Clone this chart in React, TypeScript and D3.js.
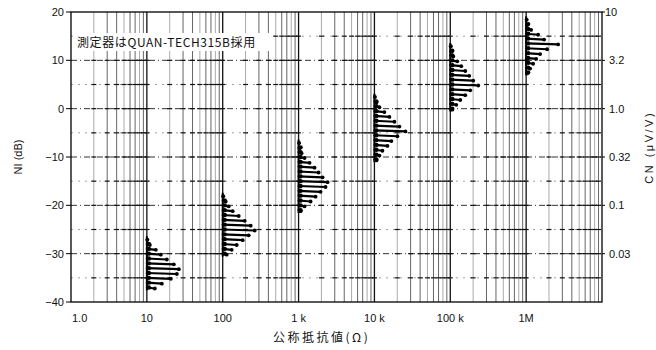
import React from "react";
import * as d3 from "d3";

// ---- data ----
const xTickValues = [1, 10, 100, 1e3, 1e4, 1e5, 1e6];
const xTickLabels = ["1.0", "10", "100", "1 k", "10 k", "100 k", "1M"];
const niTicks = [20, 10, 0, -10, -20, -30, -40];
const cnTickNI = [20, 10, 0, -10, -20, -30];
const cnLabels = ["10", "3.2", "1.0", "0.32", "0.1", "0.03"];

// histogram clusters: nominal resistance, NI of the top bar (dB), bar frequencies (1 dB steps downward)
const clusterR = [10, 100, 1e3, 1e4, 1e5, 1e6];
const clusterTopNI = [-28, -19, -8, 1.5, 12, 17.5];
const clusterFreq = [
  [3, 9, 14, 20, 27, 32, 30, 24, 15, 8],
  [3, 6, 10, 16, 22, 28, 32, 26, 20, 14, 9, 4],
  [1, 3, 6, 11, 16, 20, 24, 29, 27, 22, 17, 12, 6, 2],
  [2, 5, 10, 15, 20, 25, 31, 23, 17, 13, 8, 5, 2],
  [1, 3, 7, 11, 15, 19, 23, 28, 20, 15, 10, 6, 2],
  [1, 5, 12, 18, 32, 21, 14, 10, 7, 4, 1],
];

const W = 656;
const H = 350;
const FONT = "'Liberation Sans', Arial, sans-serif";
const CJK = "'Noto Sans CJK JP', sans-serif";

export default function App() {
  const x = d3.scaleLog().domain([1, 1e7]).range([71, 602]);
  const y = d3.scaleLinear().domain([-40, 20]).range([302, 12]);
  const len = d3.scaleLinear().domain([0, 40]).range([0, 40]);

  const gridX: number[] = [];
  for (let k = 0; k < 7; k++) {
    for (let m = 1; m <= 9; m++) {
      const v = m * Math.pow(10, k);
      if (v > 1 && v < 1e7) gridX.push(v);
    }
  }
  const gridY = d3.range(-35, 20, 5);

  return (
    <svg
      width={W}
      height={H}
      style={{ position: "absolute", left: 0, top: 0, background: "#fff" }}
    >
      <rect width={W} height={H} fill="#fff" />
      {/* vertical grid */}
      {gridX.map((v, i) => {
        const decade = Math.abs(Math.log10(v) - Math.round(Math.log10(v))) < 1e-9;
        return (
          <line
            key={"vx" + i}
            x1={x(v)}
            x2={x(v)}
            y1={y(20)}
            y2={y(-40)}
            stroke={decade ? "#111" : i % 3 === 0 ? "#aaa" : "#666"}
            strokeWidth={decade ? 1.3 : 1}
          />
        );
      })}
      {/* horizontal grid */}
      {gridY.map((v) => (
        <line
          key={"hy" + v}
          x1={x(1)}
          x2={x(1e7)}
          y1={y(v)}
          y2={y(v)}
          stroke={v % 10 === 0 ? "#333" : "#888"}
          strokeWidth={v % 10 === 0 ? 1 : 0.8}
          strokeDasharray={v % 10 === 0 ? "6,3,1,3" : "2,5"}
        />
      ))}
      {/* crosses at intersections */}
      {gridY.map((v) =>
        gridX.map((g, i) => (
          <line
            key={"c" + v + "_" + i}
            x1={x(g) - 2.5}
            x2={x(g) + 2.5}
            y1={y(v)}
            y2={y(v)}
            stroke="#111"
            strokeWidth={1.2}
          />
        ))
      )}
      {/* annotation */}
      <rect x={75} y={33} width={198} height={18} fill="#fff" />
      <text
        x={77}
        y={47}
        fontFamily={CJK}
        fontSize={12}
        letterSpacing={0.6}
        fill="#111"
      >
        測定器はQUAN-TECH315B採用
      </text>
      {/* histograms */}
      {clusterR.map((r, ci) => {
        const freq = clusterFreq[ci];
        const top = clusterTopNI[ci];
        const bottom = top - (freq.length - 1);
        const bx = x(r);
        return (
          <g key={"cl" + ci}>
            <line
              x1={bx}
              x2={bx}
              y1={y(top + 1.6)}
              y2={y(bottom - 0.6)}
              stroke="#000"
              strokeWidth={2}
            />
            <circle cx={bx + 0.5} cy={y(top + 0.9)} r={2} fill="#000" />
            {freq.map((f, j) => {
              const yy = y(top - j);
              const ex = bx + len(f);
              return (
                <g key={j}>
                  <line
                    x1={bx}
                    x2={ex}
                    y1={yy}
                    y2={yy + 1}
                    stroke="#000"
                    strokeWidth={2.2}
                    strokeLinecap="round"
                  />
                  <circle cx={bx + 2} cy={yy} r={2.2} fill="#000" />
                  <circle cx={ex} cy={yy + 1} r={1.9} fill="#000" />
                </g>
              );
            })}
          </g>
        );
      })}
      {/* frame */}
      <rect
        x={x(1)}
        y={y(20)}
        width={x(1e7) - x(1)}
        height={y(-40) - y(20)}
        fill="none"
        stroke="#000"
        strokeWidth={1.3}
      />
      {/* left axis */}
      {niTicks.map((v) => (
        <g key={"lt" + v}>
          <line x1={x(1) - 5} x2={x(1)} y1={y(v)} y2={y(v)} stroke="#000" />
          <text
            x={x(1) - 7}
            y={y(v) + 4}
            textAnchor="end"
            fontFamily={FONT}
            fontSize={11}
            fill="#111"
          >
            {v < 0 ? "\u2212" + Math.abs(v) : String(v)}
          </text>
        </g>
      ))}
      {/* right axis */}
      {cnTickNI.map((v, i) => (
        <g key={"rt" + v}>
          <line x1={x(1e7)} x2={x(1e7) + 3} y1={y(v)} y2={y(v)} stroke="#000" />
          <text
            x={i === 0 ? x(1e7) + 3 : x(1e7) + 7}
            y={y(v) + 4}
            fontFamily={FONT}
            fontSize={11}
            fill="#111"
          >
            {cnLabels[i]}
          </text>
        </g>
      ))}
      {/* bottom axis labels */}
      {xTickValues.map((v, i) => (
        <text
          key={"bt" + i}
          x={i === 0 ? x(v) + 1 : x(v)}
          y={322}
          textAnchor={i === 0 ? "start" : "middle"}
          fontFamily={FONT}
          fontSize={11}
          fill="#111"
        >
          {xTickLabels[i]}
        </text>
      ))}
      {/* axis titles */}
      <text
        x={273}
        y={342}
        fontFamily={CJK}
        fontSize={12}
        letterSpacing={2.5}
        fill="#111"
      >
        公称抵抗値(Ω)
      </text>
      <text
        transform={`translate(22,${y(-10)}) rotate(-90)`}
        textAnchor="middle"
        fontFamily={FONT}
        fontSize={11}
        fill="#111"
      >
        NI (dB)
      </text>
      <text
        transform={`translate(653,${y(-8)}) rotate(-90)`}
        textAnchor="middle"
        fontFamily={FONT}
        fontSize={11}
        letterSpacing={2.5}
        fill="#111"
      >
        CN (μV/V)
      </text>
    </svg>
  );
}
